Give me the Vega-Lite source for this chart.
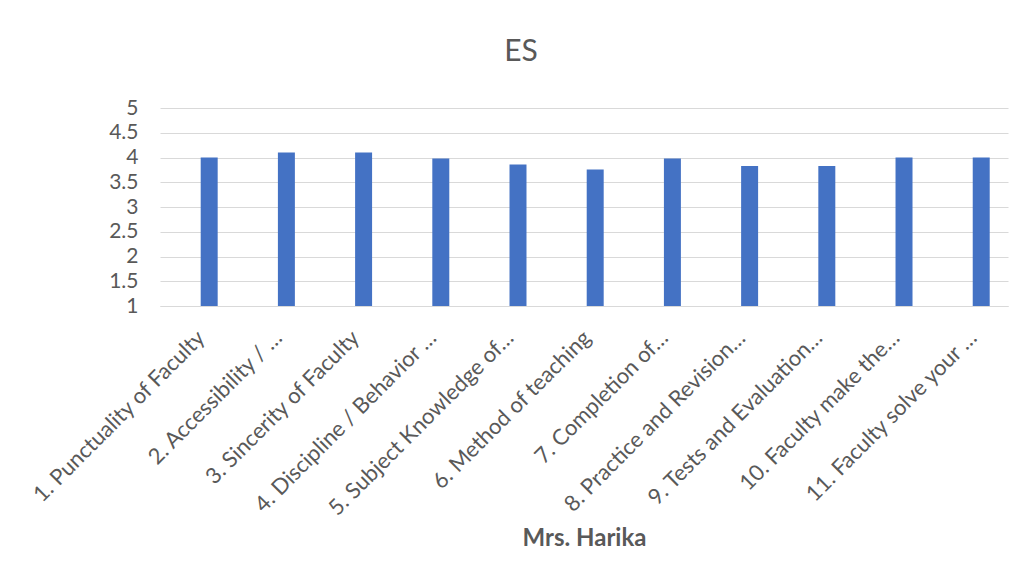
{
  "$schema": "https://vega.github.io/schema/vega-lite/v6.json",
  "autosize": "none",
  "width": 848,
  "height": 198,
  "padding": {"left": 160, "top": 108, "right": 18, "bottom": 269},
  "background": "white",
  "title": {
    "text": "ES",
    "fontSize": 30,
    "font": "Lato",
    "fontWeight": "normal",
    "color": "#595959",
    "anchor": "middle",
    "dx": -63,
    "offset": 6,
    "baseline": "alphabetic"
  },
  "data": {
    "values": [
      {"q": "1. Punctuality of Faculty", "v": 4.0},
      {"q": "2. Accessibility / …", "v": 4.1},
      {"q": "3. Sincerity of Faculty", "v": 4.1},
      {"q": "4. Discipline / Behavior …", "v": 3.98},
      {"q": "5. Subject Knowledge of…", "v": 3.86},
      {"q": "6. Method of teaching", "v": 3.76},
      {"q": "7. Completion of…", "v": 3.98},
      {"q": "8. Practice and Revision…", "v": 3.83},
      {"q": "9. Tests and Evaluation…", "v": 3.83},
      {"q": "10. Faculty make the…", "v": 4.0},
      {"q": "11. Faculty solve your …", "v": 4.0}
    ]
  },
  "mark": {"type": "bar", "color": "#4472C4"},
  "encoding": {
    "x": {
      "field": "q",
      "type": "nominal",
      "sort": null,
      "scale": {"paddingInner": 0.78, "paddingOuter": 0.382, "align": 0.69},
      "axis": {
        "title": "Mrs. Harika",
        "titleFont": "Lato",
        "titleFontSize": 24,
        "titleFontWeight": "bold",
        "titleColor": "#595959",
        "titleY": 239,
        "titleBaseline": "alphabetic",
        "labelAngle": -45,
        "labelAlign": "right",
        "labelBaseline": "middle",
        "labelFont": "Lato",
        "labelFontSize": 22,
        "labelColor": "#595959",
        "labelPadding": 28,
        "labelOffset": -8,
        "labelLimit": 400,
        "ticks": false,
        "domainColor": "#d9d9d9",
        "domainWidth": 1,
        "grid": false
      }
    },
    "y": {
      "field": "v",
      "type": "quantitative",
      "scale": {"domain": [1, 5], "zero": false, "nice": false},
      "axis": {
        "title": null,
        "values": [1, 1.5, 2, 2.5, 3, 3.5, 4, 4.5, 5],
        "format": ".1~f",
        "labelFont": "Lato",
        "labelFontSize": 21,
        "labelColor": "#595959",
        "labelPadding": 22,
        "ticks": false,
        "domain": false,
        "gridColor": "#d9d9d9",
        "gridWidth": 1
      }
    },
    "y2": {"datum": 1}
  },
  "config": {"view": {"stroke": null}}
}
